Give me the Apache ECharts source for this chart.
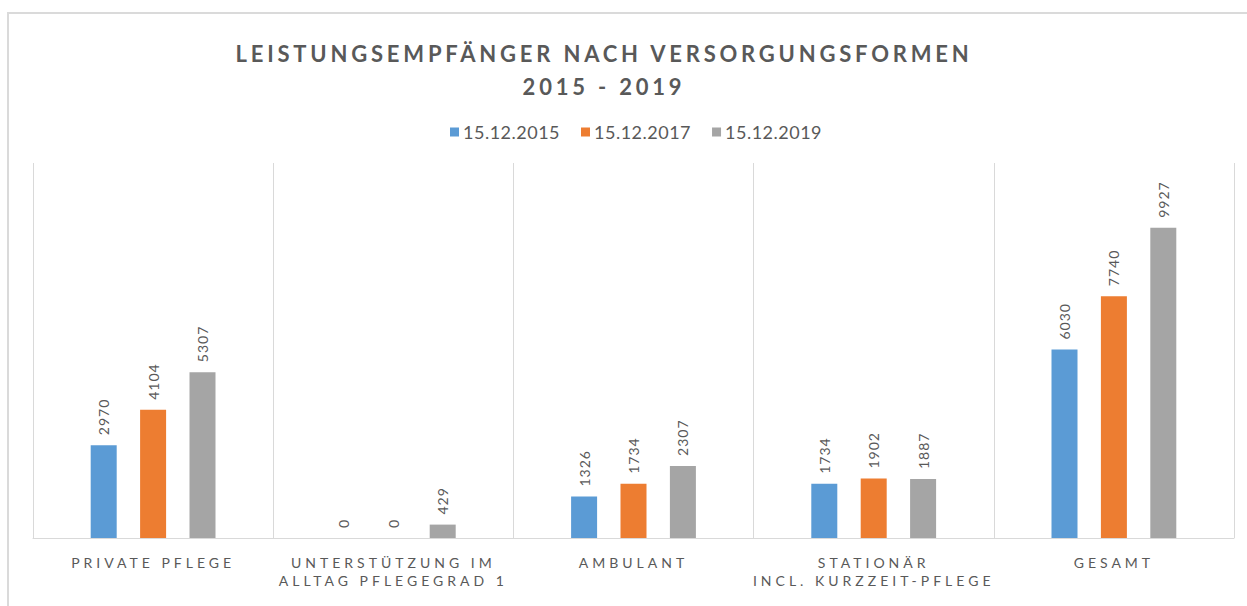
<!DOCTYPE html>
<html>
<head>
<meta charset="utf-8">
<script src="https://cdn.jsdelivr.net/npm/echarts@6/dist/echarts.min.js"></script>
<style>
html, body { margin: 0; padding: 0; background: #fff; }
#chart { width: 1247px; height: 606px; }
/* letter spacing for texts whose font list carries a marker family */
#chart text[style*="sp4"] { letter-spacing: 4px; }
#chart text[style*="sp3"] { letter-spacing: 3.8px; }
#chart text[style*="sp1"] { letter-spacing: 1px; }
#chart text[style*="sph"] { letter-spacing: 0.5px; }
</style>
</head>
<body>
<div id="chart"></div>
<script>
const titleLines = ['LEISTUNGSEMPFÄNGER NACH VERSORGUNGSFORMEN', '2015 - 2019'];
const categories = [
  'PRIVATE PFLEGE',
  'UNTERSTÜTZUNG IM\nALLTAG PFLEGEGRAD 1',
  'AMBULANT',
  'STATIONÄR\nINCL. KURZZEIT-PFLEGE',
  'GESAMT'
];
const seriesNames = ['15.12.2015', '15.12.2017', '15.12.2019'];
const values2015 = [2970, 0, 1326, 1734, 6030];
const values2017 = [4104, 0, 1734, 1902, 7740];
const values2019 = [5307, 429, 2307, 1887, 9927];
const colors = ['#5b9bd5', '#ed7d31', '#a5a5a5'];

const chart = echarts.init(document.getElementById('chart'), null, { renderer: 'svg' });

const labelStyle = {
  show: true,
  position: 'top',
  rotate: 90,
  align: 'left',
  verticalAlign: 'middle',
  distance: 10,
  color: '#595959',
  fontSize: 14,
  fontFamily: 'Lato, sp1, sans-serif'
};

function makeSeries(name, data, color) {
  return {
    name: name,
    type: 'bar',
    data: data,
    barWidth: 26,
    barGap: '90%',
    itemStyle: { color: color },
    label: labelStyle,
    emphasis: { disabled: true }
  };
}

chart.setOption({
  animation: false,
  title: {
    text: titleLines.join('\n'),
    left: 599,
    textAlign: 'center',
    top: 32,
    textStyle: {
      fontFamily: 'Lato, sp3, sans-serif',
      fontWeight: 'bold',
      fontSize: 22,
      lineHeight: 33,
      color: '#595959'
    }
  },
  legend: {
    data: seriesNames,
    top: 123,
    left: 450,
    padding: 0,
    icon: 'rect',
    itemWidth: 9,
    itemHeight: 9,
    itemGap: 26,
    textStyle: { color: '#595959', fontSize: 18, fontFamily: 'Lato, sph, sans-serif', padding: [0, 0, 0, -1] }
  },
  graphic: [{
    type: 'rect',
    shape: { x: 8, y: 13, width: 1260, height: 640 },
    style: { fill: 'none', stroke: '#dadada', lineWidth: 2 },
    silent: true
  }],
  grid: { left: 33, right: 13, top: 163, bottom: 68, containLabel: false },
  xAxis: {
    type: 'category',
    data: categories,
    boundaryGap: true,
    axisLine: { show: true, lineStyle: { color: '#d9d9d9', width: 1 } },
    axisTick: { show: false },
    splitLine: { show: true, lineStyle: { color: '#d9d9d9', width: 1 } },
    axisLabel: {
      interval: 0,
      margin: 15,
      color: '#595959',
      fontSize: 14,
      lineHeight: 18,
      fontFamily: 'Lato, sp4, sans-serif'
    }
  },
  yAxis: {
    type: 'value',
    min: 0,
    max: 12000,
    show: false,
    splitLine: { show: false }
  },
  series: [
    makeSeries(seriesNames[0], values2015, colors[0]),
    makeSeries(seriesNames[1], values2017, colors[1]),
    makeSeries(seriesNames[2], values2019, colors[2])
  ]
});
</script>
</body>
</html>
